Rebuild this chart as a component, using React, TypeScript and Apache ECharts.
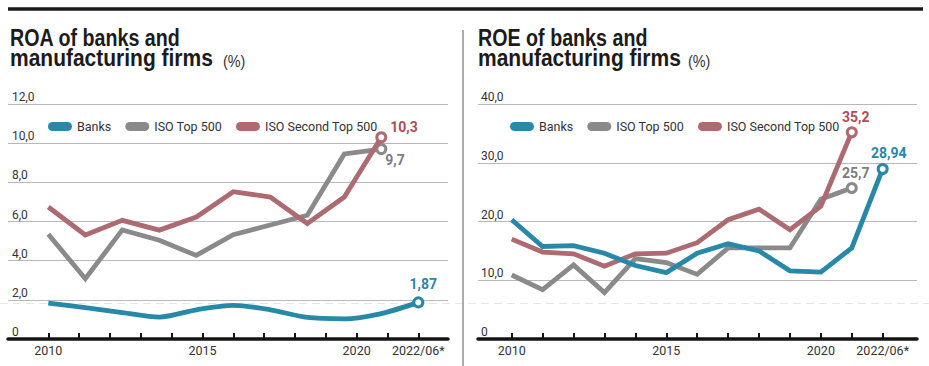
import React, { useEffect, useRef } from 'react';
import * as echarts from 'echarts';

// ---------- data ----------
const seriesNames = ['Banks', 'ISO Top 500', 'ISO Second Top 500'];
const tickLabels = ['2010', '2011', '2012', '2013', '2014', '2015', '2016', '2017', '2018', '2019', '2020', '2021', '2022/06*'];
const tickPositions = [0, 1, 2, 3, 4, 5, 6, 7, 8, 9, 10, 11, 12];
const shownLabelPositions = [0, 5, 10, 12];

// ROA panel: points are spread evenly between the 2010 and 2022/06 ticks
const roaPointPositions = [0, 1.2, 2.4, 3.6, 4.8, 6, 7.2, 8.4, 9.6, 10.8, 12];
const roaBanks = [1.83, 1.6, 1.35, 1.12, 1.49, 1.72, 1.49, 1.1, 1.03, 1.3, 1.87];
const roaTop500 = [5.35, 3.08, 5.57, 5.04, 4.27, 5.33, 5.82, 6.32, 9.45, 9.7];
const roaSecond500 = [6.74, 5.31, 6.06, 5.56, 6.23, 7.52, 7.25, 5.9, 7.25, 10.3];

// ROE panel: one point per tick
const roePointPositions = [0, 1, 2, 3, 4, 5, 6, 7, 8, 9, 10, 11, 12];
const roeBanks = [20.3, 15.75, 15.9, 14.6, 12.5, 11.3, 14.6, 16.2, 15.0, 11.6, 11.4, 15.5, 28.94];
const roeTop500 = [10.9, 8.4, 12.6, 7.9, 13.7, 13.0, 11.0, 15.5, 15.5, 15.5, 23.8, 25.7];
const roeSecond500 = [17.0, 14.8, 14.5, 12.4, 14.5, 14.6, 16.4, 20.3, 22.1, 18.6, 22.6, 35.2];

const titlesLine1 = ['ROA of banks and', 'ROE of banks and'];
const titleLine2 = 'manufacturing firms';
const titleUnit = '(%)';

// ---------- styles ----------
const FONT = "Roboto, 'Liberation Sans', sans-serif";
const TITLE_FONT = "'Liberation Sans', Arial, sans-serif";
const lineColors = ['#2789a7', '#8a8a8b', '#ad6a71'];
const labelColors = ['#2787a8', '#7d7d7d', '#b04d57'];
const PILL = 'path://M4.5,0H19.5A4.5,4.5,0,0,1,19.5,9H4.5A4.5,4.5,0,0,1,4.5,0Z';

const fmt = (v: number) => String(v).replace('.', ',');

function makeSeries(idx: number, panel: number, positions: number[], values: number[], endLabel: any, smooth: number | boolean) {
  const color = lineColors[idx];
  const last = values.length - 1;
  return {
    type: 'line',
    name: seriesNames[idx],
    xAxisIndex: panel,
    yAxisIndex: panel,
    smooth,
    symbol: 'circle',
    symbolSize: 9,
    showSymbol: true,
    z: idx === 0 ? 5 : idx === 2 ? 4 : 3,
    lineStyle: { color, width: 4.8, join: 'miter', cap: 'butt' },
    itemStyle: { color },
    label: {
      show: false,
      color: labelColors[idx],
      fontFamily: FONT,
      fontWeight: 'bold',
      fontSize: 14,
      formatter: (p: any) => fmt(p.value[1]),
    },
    data: values.map((v, i) =>
      i === last
        ? {
            value: [positions[i], v],
            symbol: 'circle',
            symbolSize: 9,
            itemStyle: { color: '#ffffff', borderColor: color, borderWidth: 3 },
            label: { show: true, ...endLabel },
          }
        : { value: [positions[i], v], symbol: 'none' }
    ),
  };
}

function xAxis(gridIndex: number, min: number, max: number) {
  return {
    type: 'value',
    gridIndex,
    min,
    max,
    axisLine: { show: true, onZero: false, lineStyle: { color: '#141414', width: 3.5 } },
    axisTick: { show: true, inside: true, length: 6, customValues: tickPositions, lineStyle: { color: '#141414', width: 2 } },
    axisLabel: {
      customValues: shownLabelPositions,
      formatter: (v: number) => tickLabels[Math.round(v)],
      color: '#333',
      fontSize: 12.5,
      fontFamily: FONT,
      margin: 5,
    },
    splitLine: { show: false },
  };
}

function yAxis(gridIndex: number, max: number, interval: number, margin: number) {
  return {
    type: 'value',
    gridIndex,
    min: 0,
    max,
    interval,
    axisLine: { show: false },
    axisTick: { show: false },
    axisLabel: {
      inside: true,
      verticalAlign: 'bottom',
      margin,
      color: '#333',
      fontSize: 12,
      fontFamily: FONT,
      padding: [0, 0, 1, 0],
      formatter: (v: number) => (v === 0 ? '0' : v.toFixed(1).replace('.', ',')),
    },
    splitLine: { show: true, lineStyle: { color: '#b8b8b8', width: 1 } },
  };
}

function legend(left: number) {
  return {
    left,
    top: 115,
    orient: 'horizontal',
    itemWidth: 24,
    itemHeight: 9,
    itemGap: 14,
    icon: PILL,
    itemStyle: { borderWidth: 0 },
    selectedMode: false,
    textStyle: { fontFamily: FONT, fontSize: 12.5, color: '#333' },
    data: seriesNames,
  };
}

function titleGraphic(left: number, line1: string, unitX: number) {
  return {
    type: 'group',
    children: [
      {
        type: 'text',
        x: left,
        y: 38,
        scaleX: 0.82,
        style: { text: line1, font: `bold 24px ${TITLE_FONT}`, fill: '#1b1b1b', verticalAlign: 'middle', align: 'left' },
      },
      {
        type: 'text',
        x: left,
        y: 58,
        scaleX: 0.875,
        style: { text: titleLine2, font: `bold 24px ${TITLE_FONT}`, fill: '#1b1b1b', verticalAlign: 'middle', align: 'left' },
      },
      {
        type: 'text',
        x: unitX,
        y: 61,
        scaleX: 0.9,
        style: { text: titleUnit, font: `16px ${TITLE_FONT}`, fill: '#333', verticalAlign: 'middle', align: 'left' },
      },
    ],
  };
}

export default function App() {
  const ref = useRef<HTMLDivElement>(null);
  useEffect(() => {
    if (!ref.current) return;
    const chart = echarts.init(ref.current, null, { renderer: 'svg' });
    chart.setOption({
      animation: false,
      backgroundColor: '#ffffff',
      legend: [legend(43), legend(505)],
      grid: [
        { left: 8, top: 104, width: 440, height: 235, containLabel: false, outerBoundsMode: 'none' },
        { left: 478, top: 104, width: 439, height: 235, containLabel: false, outerBoundsMode: 'none' },
      ],
      xAxis: [xAxis(0, -1.307, 12.963), xAxis(1, -1.09, 13.11)],
      yAxis: [yAxis(0, 12, 2, 4), yAxis(1, 40, 10, 3)],
      graphic: [
        { type: 'line', shape: { x1: 8, y1: 9, x2: 923, y2: 9 }, style: { stroke: '#1a1a1a', lineWidth: 3.5 }, z: 10 },
        { type: 'line', shape: { x1: 463, y1: 30, x2: 463, y2: 366 }, style: { stroke: '#8f8f8f', lineWidth: 1.5 }, z: 10 },
        { type: 'line', shape: { x1: 0, y1: 303.5, x2: 929, y2: 303.5 }, style: { stroke: '#e6e6e6', lineWidth: 1, lineDash: [8, 5] }, z: 0 },
        titleGraphic(10, titlesLine1[0], 223),
        titleGraphic(478, titlesLine1[1], 688),
      ],
      series: [
        makeSeries(1, 0, roaPointPositions, roaTop500, { position: 'right', distance: 1, offset: [-3, 11] }, false),
        makeSeries(2, 0, roaPointPositions, roaSecond500, { position: 'right', distance: 3, offset: [0, -10] }, false),
        makeSeries(0, 0, roaPointPositions, roaBanks, { position: 'top', distance: 5, offset: [5, 0] }, 0.3),
        makeSeries(1, 1, roePointPositions, roeTop500, { position: 'top', distance: 2, offset: [4, 0] }, false),
        makeSeries(2, 1, roePointPositions, roeSecond500, { position: 'top', distance: 2, offset: [4, 0] }, false),
        makeSeries(0, 1, roePointPositions, roeBanks, { position: 'top', distance: 3, offset: [6, 0] }, false),
      ],
    });
    return () => chart.dispose();
  }, []);
  return <div ref={ref} style={{ position: 'fixed', left: 0, top: 0, width: 929, height: 366 }} />;
}
